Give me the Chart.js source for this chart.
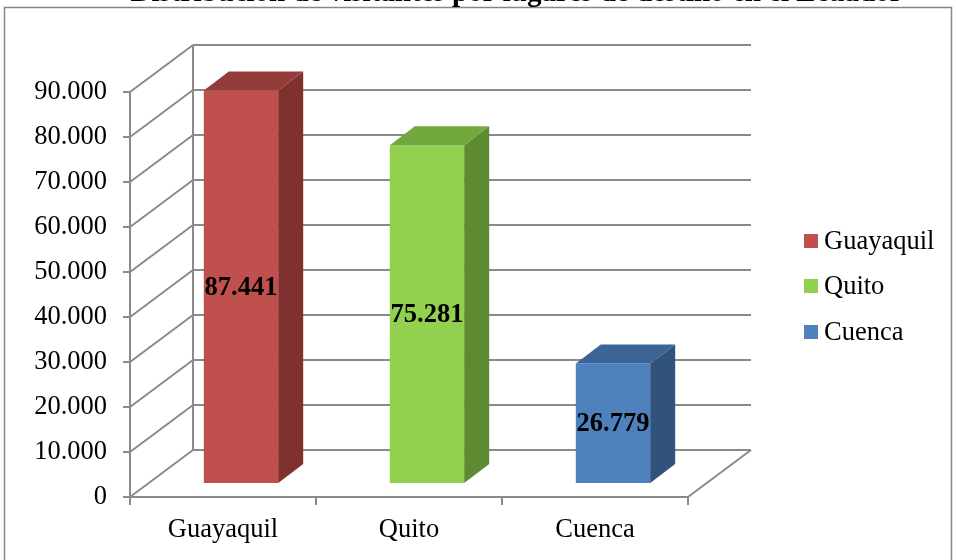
<!DOCTYPE html>
<html lang="es">
<head>
<meta charset="utf-8">
<title>Distribución de visitantes por lugares de destino</title>
<script src="https://cdn.jsdelivr.net/npm/chart.js@4/dist/chart.umd.min.js"></script>
<style>
  html, body { margin: 0; padding: 0; background: #ffffff; }
  #wrap { width: 956px; height: 560px; position: relative; }
</style>
</head>
<body>
<div id="wrap"><canvas id="chart" width="956" height="560"></canvas></div>
<script>
// Destinos y número de visitantes
const categories = ['Guayaquil', 'Quito', 'Cuenca'];
const visitantes = [87441, 75281, 26779];
const yMax = 90000;
const yStep = 10000;
const chartTitle = 'Distribución de visitantes por lugares de destino en el Ecuador';

// Colores de cada columna: cara frontal, lateral y superior
const frontColors = ['#C0504D', '#92D050', '#4F81BD'];
const sideColors  = ['#7F302F', '#5E8A31', '#31527B'];
const topColors   = ['#933C3A', '#72A83D', '#3B6597'];

const gridColor = '#8a8a8a';
const serif = '"Liberation Serif", "Times New Roman", serif';
const textSize = 26.5;

// Perspectiva del gráfico 3D
const wallDepth = { x: 63, y: -47 };
const barShift  = { x: 18, y: -13 };
const barDepth  = { x: 25, y: -19 };

function formatMiles(v) {
  const s = Math.round(v).toString();
  return s.replace(/\B(?=(\d{3})+(?!\d))/g, '.');
}

function line(ctx, x1, y1, x2, y2) {
  ctx.beginPath();
  ctx.moveTo(x1, y1);
  ctx.lineTo(x2, y2);
  ctx.stroke();
}

const plot3d = {
  id: 'plot3d',
  beforeDatasetsDraw(chart) {
    const { ctx, chartArea: a, scales } = chart;
    const y = scales.y;
    ctx.save();
    ctx.strokeStyle = gridColor;
    ctx.lineWidth = 2;
    // Pared del fondo y líneas en diagonal desde el eje
    y.ticks.forEach(t => {
      const py = y.getPixelForValue(t.value);
      line(ctx, a.left, py, a.left + wallDepth.x, py + wallDepth.y);
      line(ctx, a.left + wallDepth.x, py + wallDepth.y, a.right + wallDepth.x, py + wallDepth.y);
    });
    line(ctx, a.left + wallDepth.x, y.getPixelForValue(0) + wallDepth.y,
              a.left + wallDepth.x, y.getPixelForValue(yMax) + wallDepth.y);
    // Borde derecho del piso
    line(ctx, a.right, a.bottom, a.right + wallDepth.x, a.bottom + wallDepth.y);
    ctx.restore();

    // Las columnas se dibujan desplazadas hacia el fondo
    ctx.save();
    ctx.translate(barShift.x, barShift.y);
  },
  afterDatasetsDraw(chart) {
    const { ctx } = chart;
    const meta = chart.getDatasetMeta(0);
    meta.data.forEach((bar, i) => {
      const p = bar.getProps(['x', 'y', 'base', 'width'], true);
      const left = p.x - p.width / 2;
      const right = p.x + p.width / 2;
      const top = Math.min(p.y, p.base);
      const bottom = Math.max(p.y, p.base);
      // cara lateral
      ctx.fillStyle = sideColors[i];
      ctx.beginPath();
      ctx.moveTo(right, top);
      ctx.lineTo(right + barDepth.x, top + barDepth.y);
      ctx.lineTo(right + barDepth.x, bottom + barDepth.y);
      ctx.lineTo(right, bottom);
      ctx.closePath();
      ctx.fill();
      // cara superior
      ctx.fillStyle = topColors[i];
      ctx.beginPath();
      ctx.moveTo(left, top);
      ctx.lineTo(left + barDepth.x, top + barDepth.y);
      ctx.lineTo(right + barDepth.x, top + barDepth.y);
      ctx.lineTo(right, top);
      ctx.closePath();
      ctx.fill();
      // etiqueta de valor
      ctx.fillStyle = '#000000';
      ctx.font = 'bold 26.5px ' + serif;
      ctx.textAlign = 'center';
      ctx.textBaseline = 'middle';
      ctx.fillText(formatMiles(visitantes[i]), p.x, (top + bottom) / 2 + 1);
    });
    ctx.restore();
  },
  afterDraw(chart) {
    const { ctx } = chart;
    ctx.save();
    // Marco exterior
    ctx.strokeStyle = '#868686';
    ctx.lineWidth = 1.5;
    ctx.strokeRect(4.5, 7.5, 947, 580);

    // Título (parcialmente fuera del lienzo)
    ctx.fillStyle = '#000000';
    ctx.font = 'bold 29px ' + serif;
    ctx.textAlign = 'left';
    ctx.textBaseline = 'alphabetic';
    const prefix = chartTitle.slice(0, chartTitle.indexOf('por'));
    const startX = 452 - ctx.measureText(prefix).width;
    ctx.fillText(chartTitle, startX, 0.8);

    // Leyenda
    ctx.font = textSize + 'px ' + serif;
    ctx.textBaseline = 'middle';
    const legendY = [241, 286, 332];
    categories.forEach((c, i) => {
      ctx.fillStyle = frontColors[i];
      ctx.fillRect(804, legendY[i] - 7, 14, 14);
      ctx.fillStyle = '#000000';
      ctx.fillText(c, 824, legendY[i] + 1);
    });
    ctx.restore();
  }
};

new Chart(document.getElementById('chart'), {
  type: 'bar',
  data: {
    labels: categories,
    datasets: [{
      label: 'Visitantes',
      data: visitantes,
      backgroundColor: frontColors,
      borderWidth: 0,
      barPercentage: 1,
      categoryPercentage: 0.4
    }]
  },
  options: {
    responsive: false,
    animation: false,
    events: [],
    layout: { padding: { top: 92, right: 268, bottom: 0, left: 0 } },
    plugins: {
      legend: { display: false },
      title: { display: false },
      tooltip: { enabled: false }
    },
    scales: {
      x: {
        offset: true,
        grid: {
          offset: true,
          drawOnChartArea: false,
          drawTicks: true,
          tickLength: 8,
          color: gridColor,
          lineWidth: 2
        },
        border: { display: true, color: gridColor, width: 2 },
        ticks: {
          color: '#000000',
          font: { family: serif, size: textSize },
          padding: 9,
          maxRotation: 0
        },
        afterFit(scale) { scale.height = 63; }
      },
      y: {
        min: 0,
        max: yMax,
        grid: {
          drawOnChartArea: false,
          drawTicks: true,
          tickLength: 7,
          color: gridColor,
          lineWidth: 2
        },
        border: { display: true, color: gridColor, width: 2 },
        ticks: {
          stepSize: yStep,
          color: '#000000',
          font: { family: serif, size: textSize },
          padding: 16,
          callback: v => formatMiles(v)
        },
        afterFit(scale) { scale.width = 130; }
      }
    }
  },
  plugins: [plot3d]
});
</script>
</body>
</html>
